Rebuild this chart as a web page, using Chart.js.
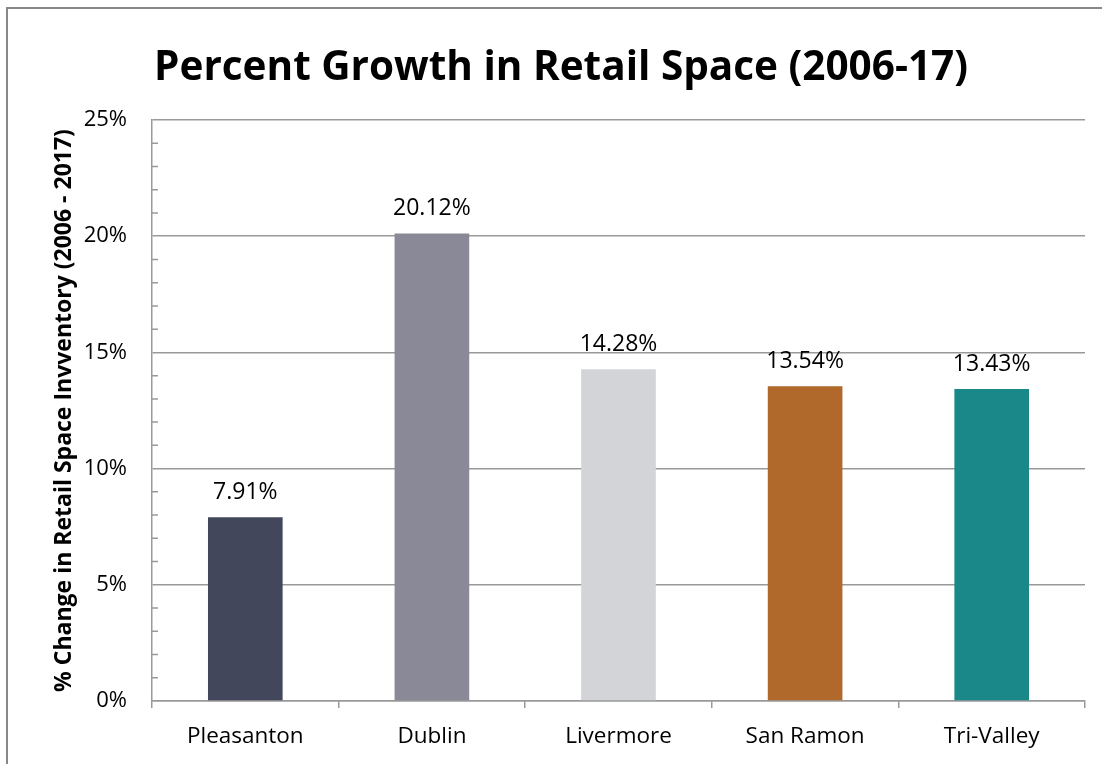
<!DOCTYPE html>
<html>
<head>
<meta charset="utf-8">
<script src="https://cdn.jsdelivr.net/npm/chart.js@4.4.0/dist/chart.umd.min.js"></script>
<style>
  html, body { margin: 0; padding: 0; background: #fff; }
  #wrap { width: 1102px; height: 764px; position: relative; }
</style>
</head>
<body>
<div id="wrap"><canvas id="chart" width="1102" height="764"></canvas></div>
<script>
const categories = ['Pleasanton', 'Dublin', 'Livermore', 'San Ramon', 'Tri-Valley'];
const growth = [7.91, 20.12, 14.28, 13.54, 13.43];
const barColors = ['#42475c', '#8a8997', '#d3d4d8', '#b0692a', '#1a8888'];
const yTicks = [0, 5, 10, 15, 20, 25];
const titleText = 'Percent Growth in Retail Space (2006-17)';
const yTitle = '% Change in Retail Space Invventory (2006 - 2017)';

const FONT = '"Open Sans"';

// frame, title, minor y ticks and value labels
const extras = {
  id: 'extras',
  beforeDraw(chart) {
    const c = chart.ctx;
    c.save();
    c.strokeStyle = '#888';
    c.lineWidth = 2;
    c.beginPath();
    c.moveTo(7, 764);
    c.lineTo(7, 8);
    c.lineTo(1102, 8);
    c.stroke();
    c.restore();
  },
  afterDraw(chart) {
    const c = chart.ctx;
    const y = chart.scales.y;
    const area = chart.chartArea;
    c.save();
    c.fillStyle = '#000';
    c.font = 'bold 40.5px ' + FONT;
    c.textAlign = 'center';
    c.textBaseline = 'middle';
    c.fillText(titleText, 561, 68);

    c.strokeStyle = '#999';
    c.lineWidth = 1.5;
    c.beginPath();
    for (let v = 0; v <= 25; v++) {
      if (v % 5 === 0) continue;
      const py = y.getPixelForValue(v);
      c.moveTo(area.left, py);
      c.lineTo(area.left + 6, py);
    }
    c.stroke();

    c.font = '23px ' + FONT;
    c.textBaseline = 'bottom';
    const meta = chart.getDatasetMeta(0);
    meta.data.forEach((bar, i) => {
      c.fillText(growth[i].toFixed(2) + '%', bar.x, bar.y - 13);
    });
    c.restore();
  }
};

new Chart(document.getElementById('chart'), {
  type: 'bar',
  data: {
    labels: categories,
    datasets: [{
      data: growth,
      backgroundColor: barColors,
      borderWidth: 0,
      barPercentage: 0.4,
      categoryPercentage: 1
    }]
  },
  options: {
    responsive: false,
    animation: false,
    devicePixelRatio: 1,
    layout: { padding: { top: 120, right: 17, left: 0, bottom: 0 } },
    plugins: {
      legend: { display: false },
      tooltip: { enabled: false },
      title: { display: false }
    },
    scales: {
      x: {
        afterFit(s) { s.height = 63; },
        grid: {
          offset: true,
          drawOnChartArea: false,
          drawTicks: true,
          tickLength: 7,
          color: '#999',
          lineWidth: 1.5
        },
        border: { color: '#999', width: 1.5 },
        ticks: { color: '#000', font: { family: FONT, size: 22.5 }, padding: 15 }
      },
      y: {
        min: 0,
        max: 25,
        afterFit(s) { s.width = 152; },
        afterBuildTicks(s) { s.ticks = yTicks.map(v => ({ value: v })); },
        grid: { drawTicks: false, color: '#999', lineWidth: 1.5 },
        border: { color: '#999', width: 1.5 },
        ticks: {
          color: '#000',
          font: { family: FONT, size: 22 },
          padding: 25,
          callback: v => v + '%'
        },
        title: {
          display: true,
          text: yTitle,
          color: '#000',
          font: { family: FONT, size: 23, weight: 'bold' },
          padding: { top: 51, bottom: 0 }
        }
      }
    }
  },
  plugins: [extras]
});
</script>
</body>
</html>
